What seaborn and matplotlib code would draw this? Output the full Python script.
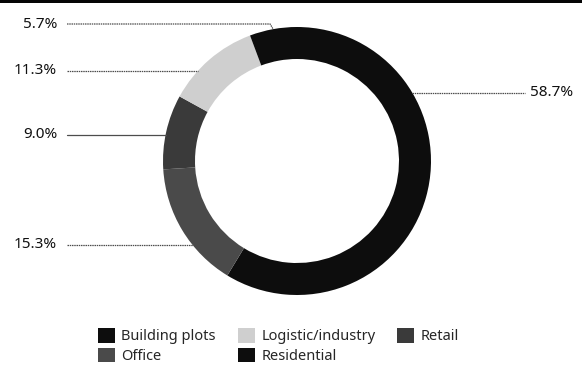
import numpy as np
import matplotlib
matplotlib.use("Agg")
import matplotlib.pyplot as plt
from matplotlib.patches import Patch
import seaborn as sns

# Share of transaction volume by property type
categories = ["Residential", "Office", "Retail", "Logistic/industry", "Building plots"]
shares = [58.7, 15.3, 9.0, 11.3, 5.7]
value_labels = ["58.7%", "15.3%", "9.0%", "11.3%", "5.7%"]
colors = ["#0d0d0d", "#4a4a4a", "#3a3a3a", "#cfcfcf", "#0d0d0d"]

# Legend order (filled column by column, three columns)
legend_order = ["Building plots", "Office", "Logistic/industry", "Residential", "Retail"]

sns.set_theme(style="white")
plt.rcParams["font.family"] = ["Noto Sans", "DejaVu Sans"]

W, H = 582, 367
fig = plt.figure(figsize=(W / 100, H / 100), dpi=100)
ax = fig.add_axes([0, 0, 1, 1])

# Ring geometry in pixel units (y measured downward from the top edge)
cx, cy_top = 297, 161
R, ring_w = 134, 32
cy = H - cy_top

wedges, _ = ax.pie(
    shares,
    colors=colors,
    startangle=90,
    counterclock=False,
    radius=R,
    center=(cx, cy),
    wedgeprops=dict(width=ring_w, linewidth=0),
)
ax.set_xlim(0, W)
ax.set_ylim(0, H)
ax.set_aspect("equal")
ax.axis("off")

# Top rule
ax.axhspan(H - 3, H, color="#050505", lw=0)

line_kw = dict(color="#4d4d4d", lw=0.9)
dotted = dict(ls=(0, (1.2, 0.6)))
text_kw = dict(fontsize=11, color="#111111", va="center")

def ring_x_left(y_top):
    dy = y_top - cy_top
    return cx - np.sqrt(R ** 2 - dy ** 2)

def ring_x_right(y_top):
    dy = y_top - cy_top
    return cx + np.sqrt(R ** 2 - dy ** 2)

label_x = 57
line_x0 = 67

# Left-hand labels: Office, Retail, Logistic/industry
for idx, y_top, style in [(1, 245, dotted), (2, 135, dict(ls="-")), (3, 71, dotted)]:
    x1 = ring_x_left(y_top)
    ax.plot([line_x0, x1], [H - y_top, H - y_top], **line_kw, **style)
    ax.text(label_x, H - y_top, value_labels[idx], ha="right", **text_kw)

# Building plots: leader runs above the ring, then drops to the wedge midpoint
cum = np.cumsum([0] + shares)
mid_frac = (cum[4] + cum[5]) / 2 / 100
theta = np.deg2rad(90 - 360 * mid_frac)
px, py = cx + R * np.cos(theta), cy + R * np.sin(theta)
y_top = 24
ax.plot([line_x0, px - 3, px], [H - y_top, H - y_top, py], **line_kw, **dotted)
ax.text(label_x, H - y_top, value_labels[4], ha="right", **text_kw)

# Residential label on the right
y_top = 93
x0 = ring_x_right(y_top)
ax.plot([x0, 525], [H - y_top, H - y_top], **line_kw, **dotted)
ax.text(530, H - y_top, value_labels[0], ha="left", **text_kw)

# Legend
color_of = dict(zip(categories, colors))
handles = [Patch(facecolor=color_of[c], edgecolor="none", label=c) for c in legend_order]
fig.legend(
    handles=handles,
    loc="upper left",
    bbox_to_anchor=(85 / W, 1 - 315 / H),
    ncol=3,
    frameon=False,
    prop=dict(size=10.5),
    handlelength=1.15,
    handleheight=1.15,
    handletextpad=0.45,
    columnspacing=1.5,
    labelspacing=0.25,
)

fig.savefig("out.png", dpi=100)
